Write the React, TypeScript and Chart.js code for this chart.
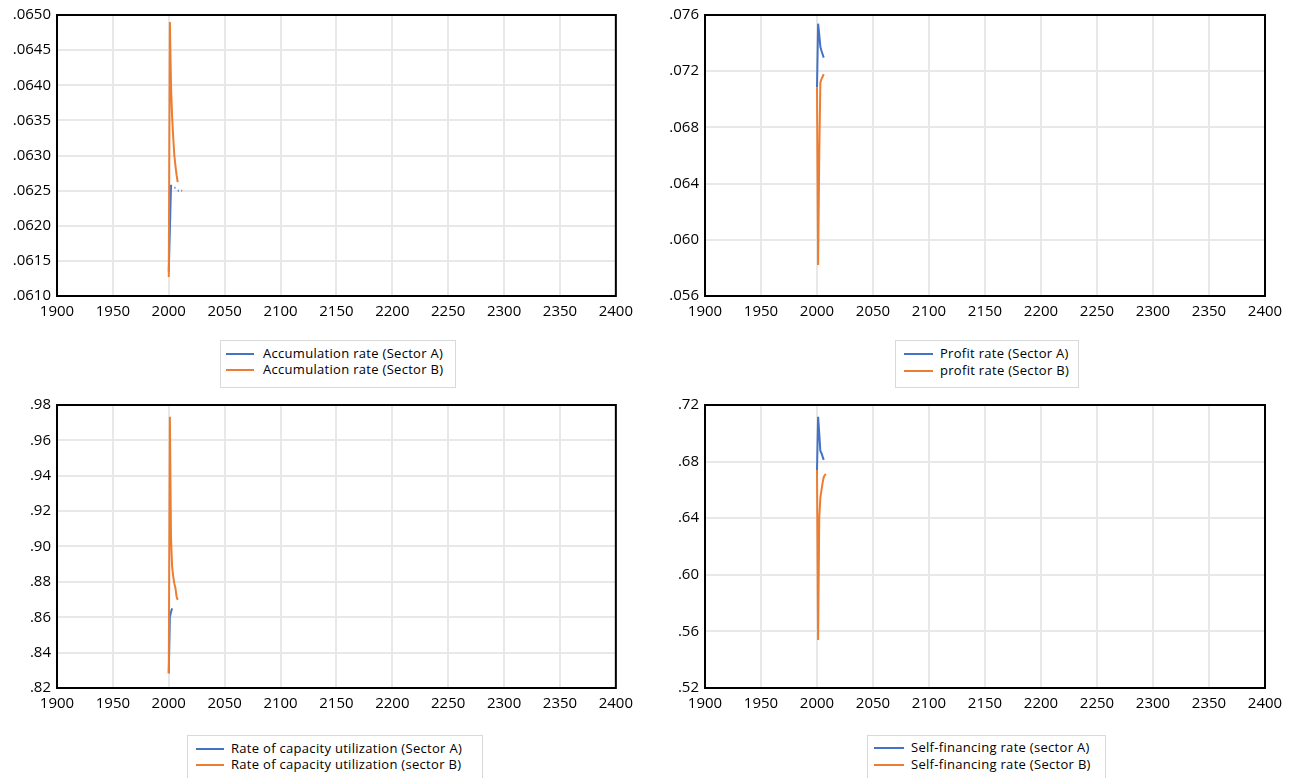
import React, { useEffect, useRef } from "react";
import { Chart, registerables } from "chart.js";

Chart.register(...registerables);

const YEARS = [2000, 2001, 2002, 2003, 2004, 2005, 2006, 2007, 2008, 2009, 2010, 2011, 2012];
const X_TICKS = [1900, 1950, 2000, 2050, 2100, 2150, 2200, 2250, 2300, 2350, 2400];

const ACC_A = [0.06135, 0.06195, 0.06257, 0.06257, null, 0.06254, 0.06254, null, 0.0625, 0.0625, null, null, null];
const ACC_B = [0.06127, 0.0649, 0.064, 0.06355, 0.06325, 0.063, 0.06285, 0.06272, 0.06262, null, null, 0.0625, 0.0625];
const ACC_TICKS = [0.061, 0.0615, 0.062, 0.0625, 0.063, 0.0635, 0.064, 0.0645, 0.065];
const ACC_LABELS = [".0610", ".0615", ".0620", ".0625", ".0630", ".0635", ".0640", ".0645", ".0650"];

const PROFIT_A = [0.07084, 0.07538, 0.0746, 0.07373, 0.07345, 0.07321, 0.07297, null, null, null, null, null, null];
const PROFIT_B = [0.07084, 0.0582, 0.066, 0.0712, 0.07144, 0.0716, 0.0718, null, null, null, null, null, null];
const PROFIT_TICKS = [0.056, 0.06, 0.064, 0.068, 0.072, 0.076];
const PROFIT_LABELS = [".056", ".060", ".064", ".068", ".072", ".076"];

const CAP_A = [0.8283, 0.8603, 0.863, 0.865, null, null, null, null, null, null, null, null, null];
const CAP_B = [0.8283, 0.9734, 0.905, 0.8886, 0.883, 0.879, 0.8764, 0.8716, 0.8698, null, null, null, null];
const CAP_TICKS = [0.82, 0.84, 0.86, 0.88, 0.9, 0.92, 0.94, 0.96, 0.98];
const CAP_LABELS = [".82", ".84", ".86", ".88", ".90", ".92", ".94", ".96", ".98"];

const SELF_A = [0.6741, 0.7117, 0.7, 0.6875, 0.6859, 0.6835, 0.6812, null, null, null, null, null, null];
const SELF_B = [0.6741, 0.5539, 0.64, 0.6545, 0.6599, 0.665, 0.669, 0.6705, 0.6712, null, null, null, null];
const SELF_TICKS = [0.52, 0.56, 0.6, 0.64, 0.68, 0.72];
const SELF_LABELS = [".52", ".56", ".60", ".64", ".68", ".72"];

const BLUE = "#4472C4";
const ORANGE = "#ED7D31";
const FONT = "'Open Sans', 'Noto Sans', sans-serif";

type PanelProps = {
  left: number;
  top: number;
  width: number;
  height: number;
  yWidth: number;
  padTop: number;
  padRight: number;
  xHeight: number;
  a: (number | null)[];
  b: (number | null)[];
  labelA: string;
  labelB: string;
  yTicks: number[];
  yLabels: string[];
};

const framePlugin = {
  id: "frame",
  afterDraw(chart: any) {
    const { ctx, chartArea } = chart;
    ctx.save();
    ctx.strokeStyle = "#000";
    ctx.lineWidth = 2;
    ctx.strokeRect(chartArea.left, chartArea.top, chartArea.right - chartArea.left, chartArea.bottom - chartArea.top);
    ctx.restore();
  },
};

function Panel(p: PanelProps) {
  const ref = useRef<HTMLCanvasElement | null>(null);
  useEffect(() => {
    if (!ref.current) return;
    const toPts = (arr: (number | null)[]) => YEARS.map((y, i) => ({ x: y, y: arr[i] }));
    const chart = new Chart(ref.current, {
      type: "line",
      data: {
        datasets: [
          { label: p.labelA, data: toPts(p.a) as any, borderColor: BLUE, borderWidth: 2, pointRadius: 0, spanGaps: false, order: 1, tension: 0 },
          { label: p.labelB, data: toPts(p.b) as any, borderColor: ORANGE, borderWidth: 2, pointRadius: 0, spanGaps: false, order: 0, tension: 0 },
        ],
      },
      options: {
        animation: false,
        responsive: false,
        devicePixelRatio: 1,
        layout: { padding: { top: p.padTop, right: p.padRight, left: 0, bottom: 0 } },
        plugins: { legend: { display: false }, tooltip: { enabled: false } },
        scales: {
          x: {
            type: "linear",
            min: 1900,
            max: 2400,
            afterBuildTicks: (s: any) => {
              s.ticks = X_TICKS.map((v) => ({ value: v }));
            },
            afterFit: (s: any) => {
              s.height = p.xHeight;
            },
            ticks: {
              callback: (v: any) => String(v),
              font: { family: FONT, size: 15 },
              color: "#000",
              padding: 7,
              maxRotation: 0,
              autoSkip: false,
            },
            grid: { color: "#e8e8e8", lineWidth: 2, drawTicks: false },
            border: { display: false },
          },
          y: {
            type: "linear",
            min: p.yTicks[0],
            max: p.yTicks[p.yTicks.length - 1],
            afterBuildTicks: (s: any) => {
              s.ticks = p.yTicks.map((v) => ({ value: v }));
            },
            afterFit: (s: any) => {
              s.width = p.yWidth;
            },
            ticks: {
              callback: (_v: any, i: number) => p.yLabels[i],
              font: { family: FONT, size: 15 },
              color: "#000",
              padding: 6,
              autoSkip: false,
            },
            grid: { color: "#e8e8e8", lineWidth: 2, drawTicks: false },
            border: { display: false },
          },
        },
      },
      plugins: [framePlugin],
    });
    return () => chart.destroy();
  }, []);
  return (
    <canvas
      ref={ref}
      width={p.width}
      height={p.height}
      style={{ position: "absolute", left: p.left, top: p.top, width: p.width, height: p.height }}
    />
  );
}

type LegendProps = { left: number; top: number; width: number; height: number; lineX: number; lineW: number; textX: number; rows: number[]; labels: string[] };

function Legend(l: LegendProps) {
  const colors = [BLUE, ORANGE];
  return (
    <div
      style={{
        position: "absolute",
        left: l.left,
        top: l.top,
        width: l.width,
        height: l.height,
        border: "1px solid #d9d9d9",
        boxSizing: "border-box",
        background: "#fff",
      }}
    >
      {l.labels.map((t, i) => (
        <React.Fragment key={i}>
          <div
            style={{
              position: "absolute",
              left: l.lineX - l.left,
              top: l.rows[i] - l.top - 1,
              width: l.lineW,
              height: 2,
              background: colors[i],
            }}
          />
          <div
            style={{
              position: "absolute",
              left: l.textX - l.left,
              top: l.rows[i] - l.top - 10,
              height: 18,
              lineHeight: "18px",
              fontFamily: FONT,
              fontSize: 13,
              letterSpacing: "0.3px",
              color: "#000",
              whiteSpace: "nowrap",
            }}
          >
            {t}
          </div>
        </React.Fragment>
      ))}
    </div>
  );
}

export default function App() {
  return (
    <div style={{ position: "fixed", left: 0, top: 0, width: 1300, height: 778, background: "#fff", overflow: "hidden" }}>
      <Panel left={0} top={0} width={640} height={330} yWidth={57} padTop={14} padRight={23} xHeight={34}
        a={ACC_A} b={ACC_B} labelA="Accumulation rate (Sector A)" labelB="Accumulation rate (Sector B)" yTicks={ACC_TICKS} yLabels={ACC_LABELS} />
      <Panel left={650} top={0} width={640} height={330} yWidth={55} padTop={14} padRight={25} xHeight={34}
        a={PROFIT_A} b={PROFIT_B} labelA="Profit rate (Sector A)" labelB="profit rate (Sector B)" yTicks={PROFIT_TICKS} yLabels={PROFIT_LABELS} />
      <Panel left={0} top={390} width={640} height={330} yWidth={57} padTop={15} padRight={23} xHeight={32}
        a={CAP_A} b={CAP_B} labelA="Rate of capacity utilization (Sector A)" labelB="Rate of capacity utilization (sector B)" yTicks={CAP_TICKS} yLabels={CAP_LABELS} />
      <Panel left={650} top={390} width={640} height={330} yWidth={55} padTop={15} padRight={25} xHeight={32}
        a={SELF_A} b={SELF_B} labelA="Self-financing rate (sector A)" labelB="Self-financing rate (Sector B)" yTicks={SELF_TICKS} yLabels={SELF_LABELS} />
      <Legend left={220} top={340} width={236} height={48} lineX={225} lineW={28} textX={262} rows={[353, 369]}
        labels={["Accumulation rate (Sector A)", "Accumulation rate (Sector B)"]} />
      <Legend left={895} top={340} width={184} height={48} lineX={903} lineW={29} textX={939} rows={[353, 370]}
        labels={["Profit rate (Sector A)", "profit rate (Sector B)"]} />
      <Legend left={187} top={735} width={296} height={50} lineX={195} lineW={28} textX={230} rows={[748, 764]}
        labels={["Rate of capacity utilization (Sector A)", "Rate of capacity utilization (sector B)"]} />
      <Legend left={867} top={735} width={239} height={50} lineX={873} lineW={30} textX={910} rows={[747, 764]}
        labels={["Self-financing rate (sector A)", "Self-financing rate (Sector B)"]} />
    </div>
  );
}
